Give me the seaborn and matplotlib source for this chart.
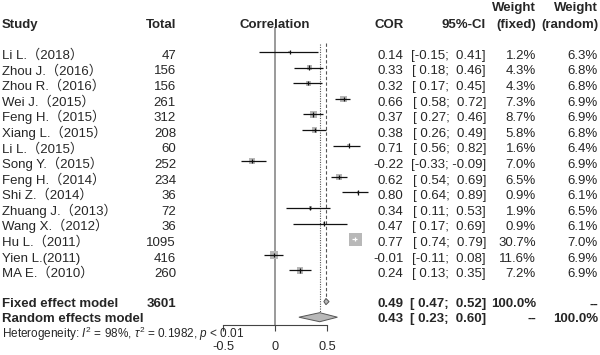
import numpy as np
import pandas as pd
import matplotlib
matplotlib.use('Agg')
import matplotlib.pyplot as plt
import matplotlib.transforms as mtransforms
import seaborn as sns

# Study level data
studies = ['Li L.（2018）', 'Zhou J.（2016）', 'Zhou R.（2016）', 'Wei J.（2015）', 'Feng H.（2015）',
           'Xiang L.（2015）', 'Li L.（2015）', 'Song Y.（2015）', 'Feng H.（2014）', 'Shi Z.（2014）',
           'Zhuang J.（2013）', 'Wang X.（2012）', 'Hu L.（2011）', 'Yien L.(2011)', 'MA E.（2010）']
totals = [47, 156, 156, 261, 312, 208, 60, 252, 234, 36, 72, 36, 1095, 416, 260]
cor = [0.14, 0.33, 0.32, 0.66, 0.37, 0.38, 0.71, -0.22, 0.62, 0.80, 0.34, 0.47, 0.77, -0.01, 0.24]
ci_low = [-0.15, 0.18, 0.17, 0.58, 0.27, 0.26, 0.56, -0.33, 0.54, 0.64, 0.11, 0.17, 0.74, -0.11, 0.13]
ci_high = [0.41, 0.46, 0.45, 0.72, 0.46, 0.49, 0.82, -0.09, 0.69, 0.89, 0.53, 0.69, 0.79, 0.08, 0.35]
w_fixed = [1.2, 4.3, 4.3, 7.3, 8.7, 5.8, 1.6, 7.0, 6.5, 0.9, 1.9, 0.9, 30.7, 11.6, 7.2]
w_random = [6.3, 6.8, 6.8, 6.9, 6.9, 6.8, 6.4, 6.9, 6.9, 6.1, 6.5, 6.1, 7.0, 6.9, 6.9]

# Pooled estimates
fixed_est, fixed_lo, fixed_hi = 0.49, 0.47, 0.52
random_est, random_lo, random_hi = 0.43, 0.23, 0.60
total_n = 3601
het_text = r'Heterogeneity: $I^2$ = 98%, $\tau^2$ = 0.1982, $p$ < 0.01'
x_ticks = [-0.5, 0, 0.5]
x_ticklabels = ['-0.5', '0', '0.5']

df = pd.DataFrame({'study': studies, 'total': totals, 'cor': cor, 'lo': ci_low,
                   'hi': ci_high, 'wf': w_fixed, 'wr': w_random})
df['row'] = np.arange(len(df))
fixed_row = len(df) + 1
random_row = fixed_row + 1
het_row = random_row + 1

sns.set_style('white')
plt.rcParams['font.family'] = ['Liberation Sans', 'Noto Sans CJK SC']
plt.rcParams['mathtext.fontset'] = 'custom'
plt.rcParams['mathtext.rm'] = 'Liberation Sans'
plt.rcParams['mathtext.it'] = 'Liberation Sans:italic'
plt.rcParams['mathtext.bf'] = 'Liberation Sans:bold'

W, H = 600, 355
row0, rowh = 52, 15.6
axis_px = 325
fs = 9.5
base = 0.43  # baseline offset (rows) so text sits on the marker row

fig = plt.figure(figsize=(W / 100, H / 100), dpi=100)
ax = fig.add_axes([223 / W, (H - axis_px) / H, 104 / W, axis_px / H])
ax.set_xlim(-0.5, 0.5)
ax.set_ylim((axis_px - row0) / rowh, -row0 / rowh)

# squares sized by fixed weight (area proportional to weight)
k = 2.85
sns.scatterplot(data=df, x='cor', y='row', size='wf',
                sizes=(k * df.wf.min(), k * df.wf.max()),
                marker='s', color='#b8b8b8', edgecolor='none', linewidth=0,
                legend=False, ax=ax, zorder=2, clip_on=False)

half = np.sqrt(k * df.wf) / 0.72 / 2 / 104
inside = (df.lo >= df.cor - half) & (df.hi <= df.cor + half)
line_col = np.where(inside, 'white', '#111111')
ax.hlines(df.row, df.lo, df.hi, colors=line_col, lw=0.9, zorder=3, clip_on=False)
ax.scatter(df.cor, df.row, marker='|', s=10, c=line_col, linewidths=0.9, zorder=4, clip_on=False)

# reference lines
ax.vlines(0, -1.6, (axis_px - row0) / rowh, color='#9a9a9a', lw=1.4, zorder=1, clip_on=False)
ax.vlines(fixed_est, -0.6, fixed_row, color='#555555', lw=0.8, ls=(0, (3, 2)), zorder=1, clip_on=False)
ax.vlines(random_est, -0.5, random_row, color='#555555', lw=0.8, ls=(0, (1, 1.2)), zorder=1, clip_on=False)

# diamonds
def diamond(est, lo, hi, row, h):
    ax.fill([lo, est, hi, est], [row, row - h, row, row + h], facecolor='#b8b8b8',
            edgecolor='#555555', lw=0.7, zorder=3, clip_on=False)

diamond(fixed_est, fixed_lo, fixed_hi, fixed_row, 0.2)
diamond(random_est, random_lo, random_hi, random_row, 0.29)

# axis
for s in ['top', 'right', 'left']:
    ax.spines[s].set_visible(False)
ax.spines['bottom'].set_color('#444444')
ax.spines['bottom'].set_linewidth(0.8)
ax.set_xticks(x_ticks)
ax.set_xticklabels(x_ticklabels, fontsize=9.2)
ax.tick_params(axis='x', direction='out', length=4.5, width=0.8, color='#444444', pad=7.2, bottom=True)
ax.set_yticks([])
ax.set_xlabel('')
ax.set_ylabel('')

# text columns
tr = mtransforms.blended_transform_factory(fig.transFigure, ax.transData)
def txt(xpx, row, s, ha='right', bold=False, size=fs):
    ax.text(xpx / W, row + base, s, transform=tr, ha=ha, va='baseline', fontsize=size,
            fontweight='bold' if bold else 'normal', clip_on=False)

x_study, x_total, x_cor, x_ci, x_wf, x_wr = 2, 176, 403.5, 486, 536, 598
hr = -2.0
txt(x_study, hr, 'Study', 'left', True)
txt(x_total, hr, 'Total', bold=True)
txt(274.5, hr, 'Correlation', 'center', True)
txt(x_cor, hr, 'COR', bold=True)
txt(x_ci, hr, '95%-CI', bold=True)
txt(x_wf, hr - 1.03, 'Weight', bold=True)
txt(x_wf, hr, '(fixed)', bold=True)
txt(x_wr, hr - 1.03, 'Weight', bold=True)
txt(x_wr, hr, '(random)', bold=True)

def fmt_ci(lo, hi):
    return f'[{lo:5.2f}; {hi:5.2f}]'

for _, r in df.iterrows():
    txt(x_study, r.row, r.study, 'left')
    txt(x_total, r.row, f'{r.total}')
    txt(x_cor, r.row, f'{r.cor:.2f}')
    txt(x_ci, r.row, fmt_ci(r.lo, r.hi))
    txt(x_wf, r.row, f'{r.wf:.1f}%')
    txt(x_wr, r.row, f'{r.wr:.1f}%')

fr = fixed_row - 0.06
txt(x_study, fr, 'Fixed effect model', 'left', True)
txt(x_total, fr, f'{total_n}', bold=True)
txt(x_cor, fr, f'{fixed_est:.2f}', bold=True)
txt(x_ci, fr, fmt_ci(fixed_lo, fixed_hi), bold=True)
txt(x_wf, fr, '100.0%', bold=True)
txt(x_wr, fr, '--', bold=True)

rr = random_row - 0.12
txt(x_study, rr, 'Random effects model', 'left', True)
txt(x_cor, rr, f'{random_est:.2f}', bold=True)
txt(x_ci, rr, fmt_ci(random_lo, random_hi), bold=True)
txt(x_wf, rr, '--', bold=True)
txt(x_wr, rr, '100.0%', bold=True)

txt(x_study, het_row - 0.12, het_text, 'left', size=8.45)

fig.savefig('out.png', dpi=100)
